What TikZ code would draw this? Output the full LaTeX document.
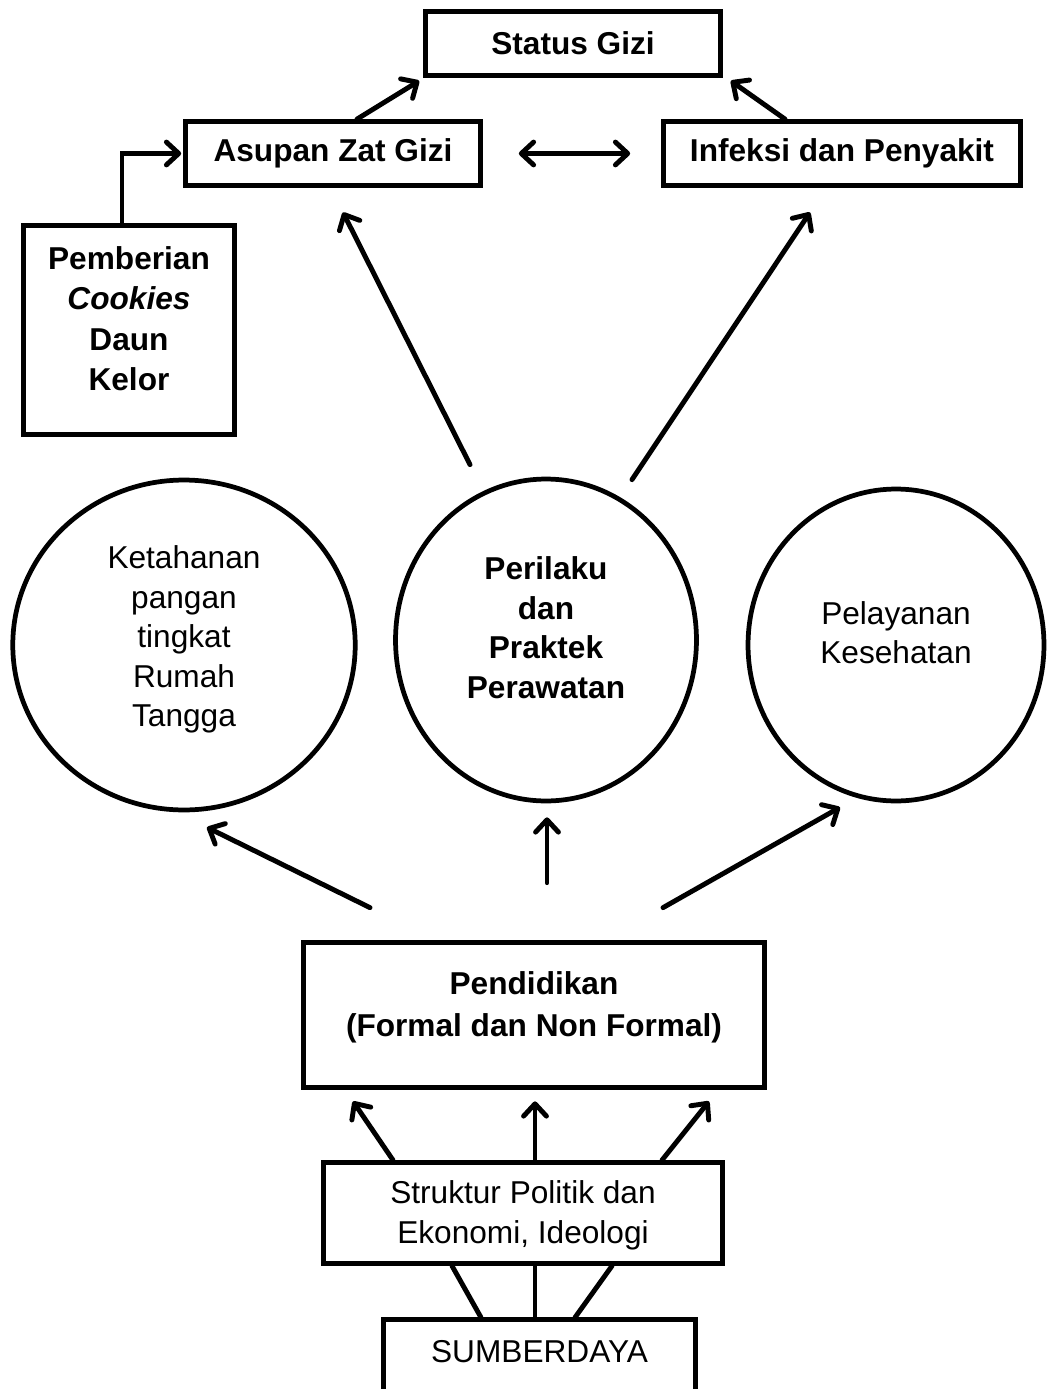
\documentclass[tikz,border=0pt]{standalone}
\usepackage{fontspec}
\setmainfont{Liberation Sans}
\usetikzlibrary{arrows.meta,calc,shapes.geometric}

\newcommand{\fnt}{\fontsize{18pt}{22.5pt}\selectfont}
\newcommand{\liftup}[2]{\raisebox{#1}[\height][\depth]{\begin{tabular}{@{}c@{}}#2\end{tabular}}}

\tikzset{
  box/.style={draw, line width=2.7pt, inner sep=0pt, minimum height=1.28cm, font=\fnt\bfseries},
  plainbox/.style={draw, line width=2.7pt, inner sep=0pt, font=\fnt},
  oval/.style={draw, ellipse, line width=2.7pt, inner sep=0pt, font=\fnt},
  arr/.style={line width=2.8pt, line cap=round},
}

\begin{document}
\begin{tikzpicture}[x=0.02cm,y=-0.02cm,>={Straight Barb[round,length=7pt,width=13pt]}]
    \useasboundingbox (0,0) rectangle (1049,1389);
    \clip (0,0) rectangle (1049,1389);
    %% Top boxes
    \node[box, minimum width=5.9cm] (status) at (573,43.5) {Status Gizi};
    \node[box, minimum width=5.9cm] (asupan) at (333,153.5) {Asupan Zat Gizi};
    \node[box, minimum width=7.14cm] (infeksi) at (842,153.5) {Infeksi dan Penyakit};
    \node[box, minimum width=4.22cm, minimum height=4.18cm] (pemberian) at (129,330)
        {\liftup{4.5pt}{Pemberian\\[0.4pt]\textit{Cookies}\\[0.4pt]Daun\\[0.4pt]Kelor}};
    \draw[arr,->] ($(asupan.north)+(24,0)$) -- ($(status.south west)+(-4,3)$);
    \draw[arr,->] ($(infeksi.north)+(-57,0)$) -- ($(status.south east)+(8,3)$);
    \draw[arr,<->] ($(asupan.east)+(36,0)$) -- ($(infeksi.west)+(-31,0)$);
    \draw[arr,->] ($(pemberian.north)+(-7,0)$) |- ($(asupan.west)+(-2,0)$);
    %% Circles
    \node[oval, minimum width=6.85cm, minimum height=6.6cm] (ketahanan) at (184,645)
        {\liftup{3pt}{Ketahanan\\pangan\\tingkat\\Rumah\\Tangga}};
    \node[oval, minimum width=6.02cm, minimum height=6.44cm, font=\fnt\bfseries] (perilaku) at (546,640)
        {\liftup{5pt}{Perilaku\\dan\\Praktek\\Perawatan}};
    \node[oval, minimum width=5.92cm, minimum height=6.24cm] (pelayanan) at (896,645)
        {\liftup{5pt}{Pelayanan\\Kesehatan}};
    \draw[arr,->] ($(perilaku.north)+(-76,-12)$) -- ($(asupan.south)+(10,24.5)$);
    \draw[arr,->] ($(perilaku.north)+(86,3)$) -- ($(infeksi.south)+(-32,24.5)$);
    %% Pendidikan
    \node[box, minimum width=9.22cm, minimum height=2.9cm] (pendidikan) at (534,1015)
        {\liftup{4pt}{Pendidikan\\[1.5pt](Formal dan Non Formal)}};
    \draw[arr,->] ($(pendidikan.north)+(-164,-32.5)$) -- ($(ketahanan.south)+(23,15)$);
    \draw[arr,->] ($(pendidikan.north)+(13,-57.5)$) -- ($(perilaku.south)+(1,14)$);
    \draw[arr,->] ($(pendidikan.north)+(129,-32.5)$) -- ($(pelayanan.south)+(-56,4)$);
    %% Struktur and Sumberdaya
    \node[plainbox, minimum width=7.98cm, minimum height=2.02cm] (struktur) at (523,1213)
        {\liftup{-1.5pt}{Struktur Politik dan\\Ekonomi, Ideologi}};
    \node[plainbox, minimum width=6.24cm, text height=24pt, text depth=25pt, anchor=base] (sumber) at (539.5,1362)
        {SUMBERDAYA};
    \draw[arr,->] ($(struktur.north)+(-130,0)$) -- ($(pendidikan.south)+(-181,11.5)$);
    \draw[arr,->] ($(struktur.north)+(12,0)$) -- ($(pendidikan.south)+(1,11.5)$);
    \draw[arr,->] ($(struktur.north)+(139,0)$) -- ($(pendidikan.south)+(175,11.5)$);
    \draw[arr] ($(sumber.north)+(-58.5,0)$) -- ($(struktur.south)+(-71,0)$);
    \draw[arr] ($(sumber.north)+(-4.5,0)$) -- ($(struktur.south)+(12,0)$);
    \draw[arr] ($(sumber.north)+(35.5,0)$) -- ($(struktur.south)+(89,0)$);
\end{tikzpicture}
\end{document}
